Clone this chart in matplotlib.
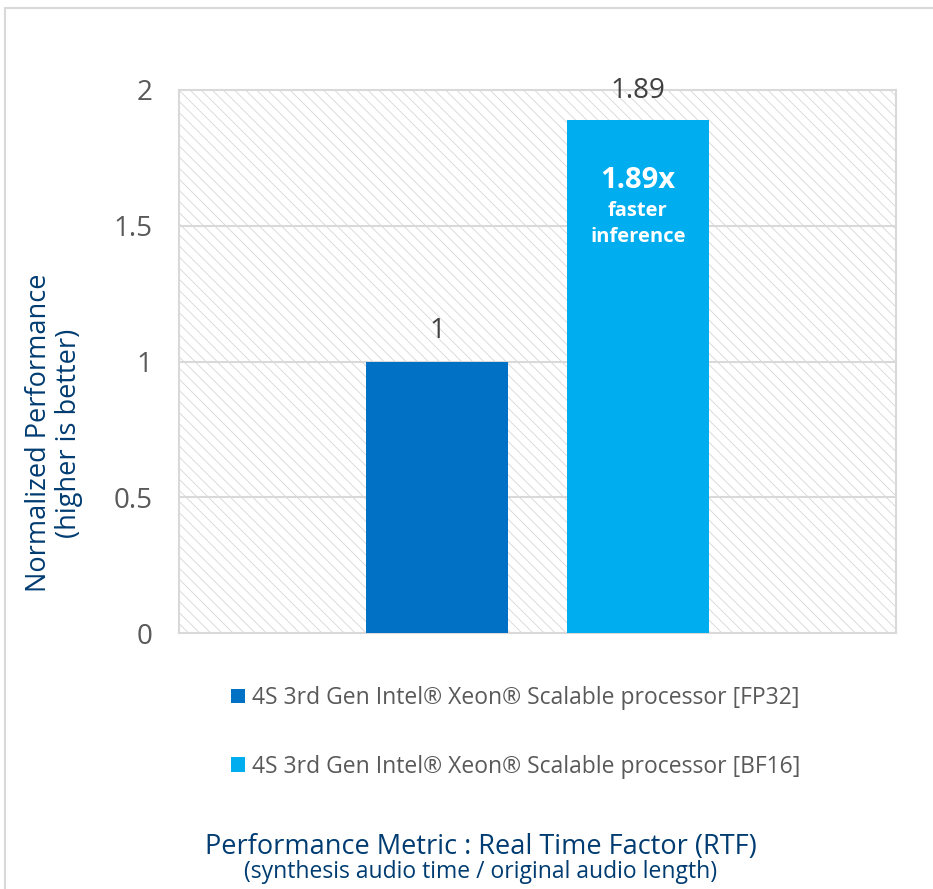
import matplotlib.pyplot as plt
from matplotlib.patches import Rectangle

# chart data
series = ["4S 3rd Gen Intel® Xeon® Scalable processor [FP32]",
          "4S 3rd Gen Intel® Xeon® Scalable processor [BF16]"]
values = [1, 1.89]
colors = ["#0071C5", "#00AEEF"]
offsets = [-0.14, 0.14]
yticks = [0, 0.5, 1, 1.5, 2]
ytick_labels = ["0", "0.5", "1", "1.5", "2"]

plt.rcParams['font.family'] = ['Open Sans', 'DejaVu Sans']
plt.rcParams['hatch.linewidth'] = 0.6

W, H = 933, 889
fig = plt.figure(figsize=(W / 100, H / 100), dpi=100)
ax = fig.add_axes([179 / W, 1 - 633 / H, (896 - 179) / W, (633 - 90) / H])

# outer chart border
fig.patches.append(Rectangle((5 / W, -0.1), 1.2, (H - 8) / H + 0.1, transform=fig.transFigure,
                             fill=False, edgecolor="#D9D9D9", linewidth=1.5))

# hatched plot background
ax.add_patch(Rectangle((0, 0), 1, 1, transform=ax.transAxes, facecolor="white",
                       edgecolor="#D6D6D6", hatch="\\" * 3, linewidth=0, zorder=0))

bars = []
for name, v, c, off in zip(series, values, colors, offsets):
    b = ax.bar(off, v, width=0.197, color=c, label=name, zorder=3)
    bars.append(b)

ax.set_xlim(-0.5, 0.5)
ax.set_ylim(0, 2)
ax.set_yticks(yticks)
ax.set_yticklabels(ytick_labels)
ax.set_xticks([])
ax.tick_params(axis='y', length=0, pad=19, labelsize=20, labelcolor="#595959")
for y in yticks[1:-1]:
    ax.axhline(y, color="#D9D9D9", linewidth=1.5, zorder=1)
for s in ax.spines.values():
    s.set_color("#D9D9D9")
    s.set_linewidth(1.5)

# value labels
ax.text(offsets[0], values[0] + 0.06, "1", ha="center", va="bottom", fontsize=20, color="#404040")
ax.text(offsets[1], values[1] + 0.055, "1.89", ha="center", va="bottom", fontsize=20, color="#404040",
        zorder=5)

# annotation inside the BF16 bar
ax.text(offsets[1], 1.665, "1.89x", ha="center", va="center", fontsize=21, fontweight="bold",
        color="white", zorder=5)
ax.text(offsets[1], 1.555, "faster", ha="center", va="center", fontsize=14.5, fontweight="bold",
        color="white", zorder=5)
ax.text(offsets[1], 1.46, "inference", ha="center", va="center", fontsize=14.5, fontweight="bold",
        color="white", zorder=5)

# y axis title
fig.text(54 / W, 1 - 433 / H, "Normalized Performance\n(higher is better)", rotation=90,
         ha="center", va="center", multialignment="center", fontsize=19.5, color="#003C71",
         linespacing=1.1)

# legend
fig.legend(handles=[b[0] for b in bars], labels=series, loc="upper left",
           bbox_to_anchor=(231 / W, 1 - 686 / H), frameon=False, fontsize=16.5,
           labelcolor="#595959", handlelength=0.62, handleheight=0.62, handletextpad=0.3,
           labelspacing=1.95, borderpad=0, borderaxespad=0)

# x axis title
fig.text(481 / W, 1 - 847 / H, "Performance Metric : Real Time Factor (RTF)", ha="center",
         va="center", fontsize=19.5, color="#003C71")
fig.text(481 / W, 1 - 872 / H, "(synthesis audio time / original audio length)", ha="center",
         va="center", fontsize=16.5, color="#003C71")

fig.savefig("out.png", dpi=100)
